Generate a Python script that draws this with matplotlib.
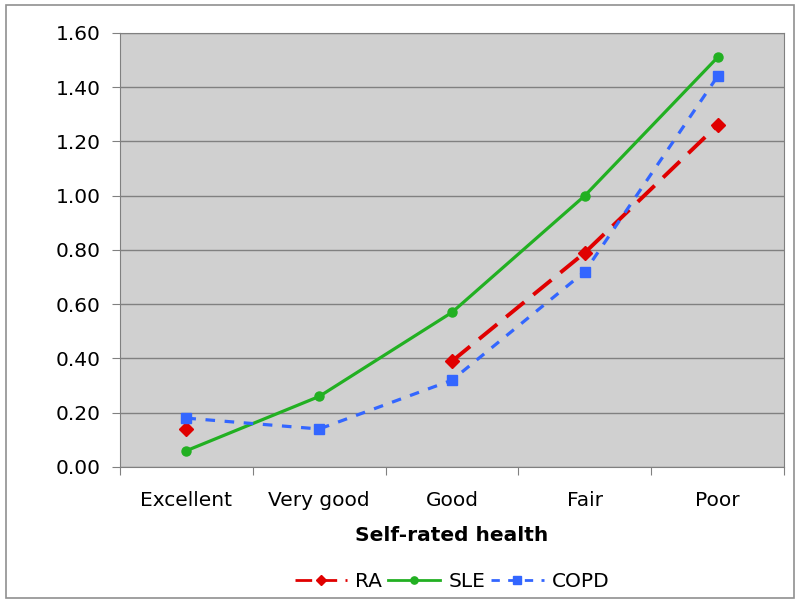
import numpy as np
import matplotlib
matplotlib.use('Agg')
import matplotlib.pyplot as plt
from matplotlib.patches import Rectangle

# Values
categories = ['Excellent', 'Very good', 'Good', 'Fair', 'Poor']
ra = [0.14, np.nan, 0.39, 0.79, 1.26]
sle = [0.06, 0.26, 0.57, 1.00, 1.51]
copd = [0.18, 0.14, 0.32, 0.72, 1.44]
y_ticks = [0.0, 0.2, 0.4, 0.6, 0.8, 1.0, 1.2, 1.4, 1.6]

plt.rcParams['font.family'] = ['DejaVu Sans']

fig = plt.figure(figsize=(8, 6.02), dpi=100)
ax = fig.add_axes([0.15, 0.2243, 0.83, 0.721])
ax.set_facecolor('#d0d0d0')

x = np.arange(len(categories))
ax.plot(x, ra, color='#e00000', lw=2.8, dashes=(6, 3), marker='D', ms=7, label='RA')
ax.plot(x, sle, color='#22b022', lw=2.3, marker='o', ms=6.5, label='SLE')
ax.plot(x, copd, color='#3366ff', lw=2.3, dashes=(3, 3), marker='s', ms=7, label='COPD')

ax.set_xlim(-0.5, len(categories) - 0.5)
ax.set_ylim(0, 1.6)
ax.set_yticks(y_ticks)
ax.set_yticklabels([f'{v:.2f}' for v in y_ticks], fontsize=14.5)
ax.yaxis.grid(True, color='#808080', lw=1)
ax.set_axisbelow(True)

# category labels in the middle, tick marks between categories
ax.set_xticks(np.arange(len(categories) + 1) - 0.5)
ax.set_xticklabels([])
ax.set_xticks(x, minor=True)
ax.set_xticklabels(categories, minor=True, fontsize=14.5)
ax.tick_params(axis='x', which='minor', length=0, pad=17)
ax.tick_params(axis='x', which='major', length=6, color='#808080')
ax.tick_params(axis='y', length=6, color='#808080', pad=8)

for s in ax.spines.values():
    s.set_color('#808080')

ax.set_xlabel('Self-rated health', fontsize=14.5, fontweight='bold', labelpad=12)

leg = ax.legend(loc='upper center', bbox_to_anchor=(0.5, -0.2), ncol=3, frameon=False,
                fontsize=14.5, handlelength=2.6, columnspacing=0.3, handletextpad=0.4,
                markerscale=0.8)
for h in leg.get_lines():
    h.set_linewidth(2)

fig.patches.append(Rectangle((0.007, 0.007), 0.986, 0.985, transform=fig.transFigure,
                             fill=False, edgecolor='#909090', lw=1.2))

fig.savefig('out.png', dpi=100)
